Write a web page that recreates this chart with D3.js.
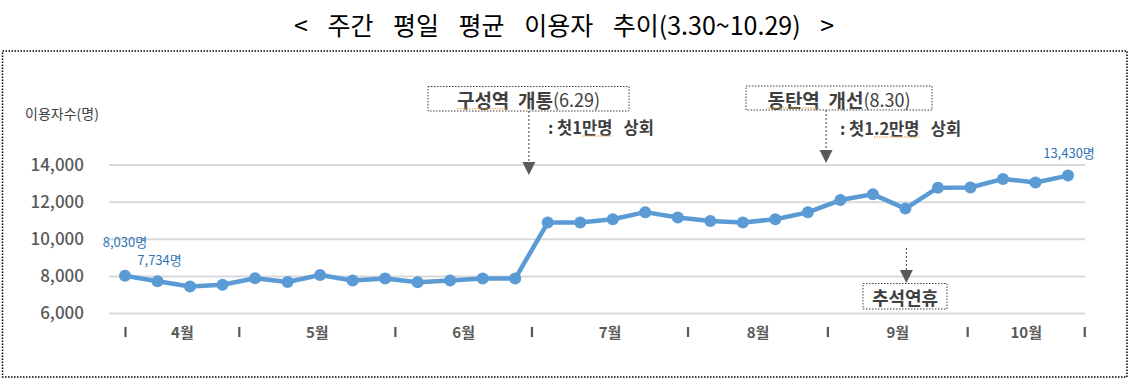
<!DOCTYPE html>
<html><head><meta charset="utf-8">
<script src="https://cdn.jsdelivr.net/npm/d3@7"></script>
<style>
body{margin:0;background:#fff}
svg{display:block}
text{font-family:"Noto Sans CJK KR","Noto Sans",sans-serif;white-space:pre}
</style>
</head><body>
<svg id="c" width="1132" height="382"></svg>
<script>
// ---- data ----
const weeks = ["W01","W02","W03","W04","W05","W06","W07","W08","W09","W10",
               "W11","W12","W13","W14","W15","W16","W17","W18","W19","W20",
               "W21","W22","W23","W24","W25","W26","W27","W28","W29","W30"];
const users = [8030,7734,7450,7550,7900,7700,8070,7780,7880,7680,
               7780,7880,7880,10900,10900,11080,11460,11170,10980,10900,
               11080,11450,12110,12420,11650,12780,12790,13250,13060,13430];
const yTicks = [6000,8000,10000,12000,14000];
const months = ["4월","5월","6월","7월","8월","9월","10월"];
const monthBounds = [0,3.5,8.3,12.5,17.3,21.6,25.9,29.5]; // in week-index units
const labeledWeeks = [0,1,29];
const titleText = "< 주간 평일 평균 이용자 추이(3.30~10.29) >";
const yTitle = "이용자수(명)";

// ---- layout ----
const svg = d3.select("#c");
const x = d3.scaleLinear().domain([0, weeks.length - 1]).range([125, 1068]);
const y = d3.scaleLinear().domain([6000, 14000]).range([313.5, 165]);
const gridX0 = 109, gridX1 = 1085;

// outer dotted frame
svg.append("rect").attr("x", 2.5).attr("y", 51).attr("width", 1124.5).attr("height", 326)
  .attr("fill", "none").attr("stroke", "#000").attr("stroke-width", 1.5)
  .attr("stroke-dasharray", "1.5,1.5");

// title
svg.append("text").attr("x", 564).attr("y", 24).attr("text-anchor", "middle")
  .attr("dominant-baseline", "central").attr("font-size", 25).attr("fill", "#000")
  .attr("word-spacing", 14)
  .text(titleText);

// y title
svg.append("text").attr("x", 25).attr("y", 113).attr("dominant-baseline", "central")
  .attr("font-size", 14).attr("fill", "#404040").text(yTitle);

// gridlines
svg.append("g").selectAll("line").data(yTicks).join("line")
  .attr("x1", gridX0).attr("x2", gridX1)
  .attr("y1", d => y(d)).attr("y2", d => y(d))
  .attr("stroke", "#d9d9d9").attr("stroke-width", 2);

// y axis (labels right-aligned at x = 84)
const yAxis = svg.append("g").attr("transform", "translate(84,0)")
  .call(d3.axisLeft(y).tickValues(yTicks).tickSize(0).tickPadding(0).tickFormat(d3.format(",")));
yAxis.select(".domain").remove();
yAxis.selectAll("text").attr("x", 0).attr("text-anchor", "end")
  .attr("font-size", 17).attr("fill", "#595959")
  .attr("font-family", '"Noto Sans","Noto Sans CJK KR",sans-serif').attr("font-weight", 500);

// x axis separators
const xSep = svg.append("g").attr("transform", "translate(0,327)")
  .call(d3.axisBottom(x).tickValues(monthBounds).tickSize(10).tickFormat(""));
xSep.select(".domain").remove();
xSep.selectAll("line").attr("stroke", "#595959").attr("stroke-width", 2.2);

// month labels
const mids = months.map((m, i) => (monthBounds[i] + monthBounds[i + 1]) / 2);
const xLab = svg.append("g").attr("transform", "translate(0,331)")
  .call(d3.axisBottom(x).tickValues(mids).tickSize(0).tickPadding(0).tickFormat((d, i) => months[i]));
xLab.select(".domain").remove();
xLab.selectAll("text").attr("dy", null).attr("dominant-baseline", "central")
  .attr("font-size", 15).attr("font-weight", 700).attr("fill", "#595959");

// line
const line = d3.line().x((d, i) => x(i)).y(d => y(d));
svg.append("path").datum(users).attr("d", line)
  .attr("fill", "none").attr("stroke", "#5b9bd5").attr("stroke-width", 4.5)
  .attr("stroke-linejoin", "round");
svg.append("g").selectAll("circle").data(users).join("circle")
  .attr("cx", (d, i) => x(i)).attr("cy", d => y(d)).attr("r", 6)
  .attr("fill", "#5b9bd5");

// data labels
const labelOffsets = {0: [0, -34], 1: [2, -22], 29: [1, -23]};
svg.append("g").selectAll("text").data(labeledWeeks).join("text")
  .attr("x", i => x(i) + labelOffsets[i][0]).attr("y", i => y(users[i]) + labelOffsets[i][1])
  .attr("text-anchor", "middle").attr("dominant-baseline", "central")
  .attr("font-size", 13).attr("fill", "#2e75b6")
  .text(i => d3.format(",")(users[i]) + "명");

// ---- annotations ----
const annoColor = "#404040";
function arrowDown(g, ax, y0, tip) {
  g.append("line").attr("x1", ax).attr("x2", ax).attr("y1", y0).attr("y2", tip - 12)
    .attr("stroke", annoColor).attr("stroke-width", 1).attr("stroke-dasharray", "2,2");
  g.append("path").attr("d", `M${ax - 6.5},${tip - 13}L${ax + 6.5},${tip - 13}L${ax},${tip}Z`)
    .attr("fill", "#595959");
}
function squiggle(textSel, from, to, dy) {
  const n = textSel.node();
  const x0 = n.getStartPositionOfChar(from).x, x1 = n.getEndPositionOfChar(to).x;
  const by = n.getBBox();
  svg.append("line").attr("x1", x0).attr("x2", x1).attr("y1", by.y + by.height + dy).attr("y2", by.y + by.height + dy)
    .attr("stroke", "#e0a040").attr("stroke-width", 1.2).attr("stroke-dasharray", "1.5,1");
}
const events = [
  {bold: "구성역  개통", reg: "(6.29)", sub: ": 첫1만명   상회", at: 12.42, box: [428, 86.5, 201, 24.5], tip: 175, subX: 548, subY: 127, sq: [[0,2],[4,5]]},
  {bold: "동탄역  개선", reg: "(8.30)", sub: ": 첫1.2만명   상회", at: 21.56, box: [746, 86, 186, 24], tip: 163, subX: 840, subY: 128, sq: [[0,2],[4,7]]}
];
const ag = svg.append("g");
events.forEach(ev => {
  const [bx, by, bw, bh] = ev.box;
  ag.append("rect").attr("x", bx).attr("y", by).attr("width", bw).attr("height", bh)
    .attr("fill", "#fff").attr("stroke", annoColor).attr("stroke-width", 1).attr("stroke-dasharray", "1.5,1.5");
  const t = ag.append("text").attr("x", bx + bw / 2).attr("y", by + bh / 2 + 0.5)
    .attr("text-anchor", "middle").attr("dominant-baseline", "central").attr("fill", annoColor);
  t.append("tspan").attr("font-size", 19).attr("font-weight", 700).text(ev.bold);
  t.append("tspan").attr("font-size", 18).attr("font-weight", 400).text(ev.reg);
  squiggle(t, ev.sq[0][0], ev.sq[0][1], -4);
  arrowDown(ag, x(ev.at), by + bh, ev.tip);
  const s = ag.append("text").attr("x", ev.subX).attr("y", ev.subY).attr("dominant-baseline", "central")
    .attr("font-size", 16.5).attr("font-weight", 700).attr("fill", annoColor).text(ev.sub);
  squiggle(s, ev.sq[1][0], ev.sq[1][1], -3);
});

// 추석연휴
const cx = x(24.03);
arrowDown(ag, cx, 248, 283);
ag.append("rect").attr("x", 863).attr("y", 283.5).attr("width", 84).attr("height", 25.5)
  .attr("fill", "#fff").attr("stroke", annoColor).attr("stroke-width", 1).attr("stroke-dasharray", "1.5,1.5");
ag.append("text").attr("x", 905).attr("y", 296.5).attr("text-anchor", "middle").attr("dominant-baseline", "central")
  .attr("font-size", 18).attr("font-weight", 700).attr("fill", annoColor).text("추석연휴");
</script>
</body></html>
